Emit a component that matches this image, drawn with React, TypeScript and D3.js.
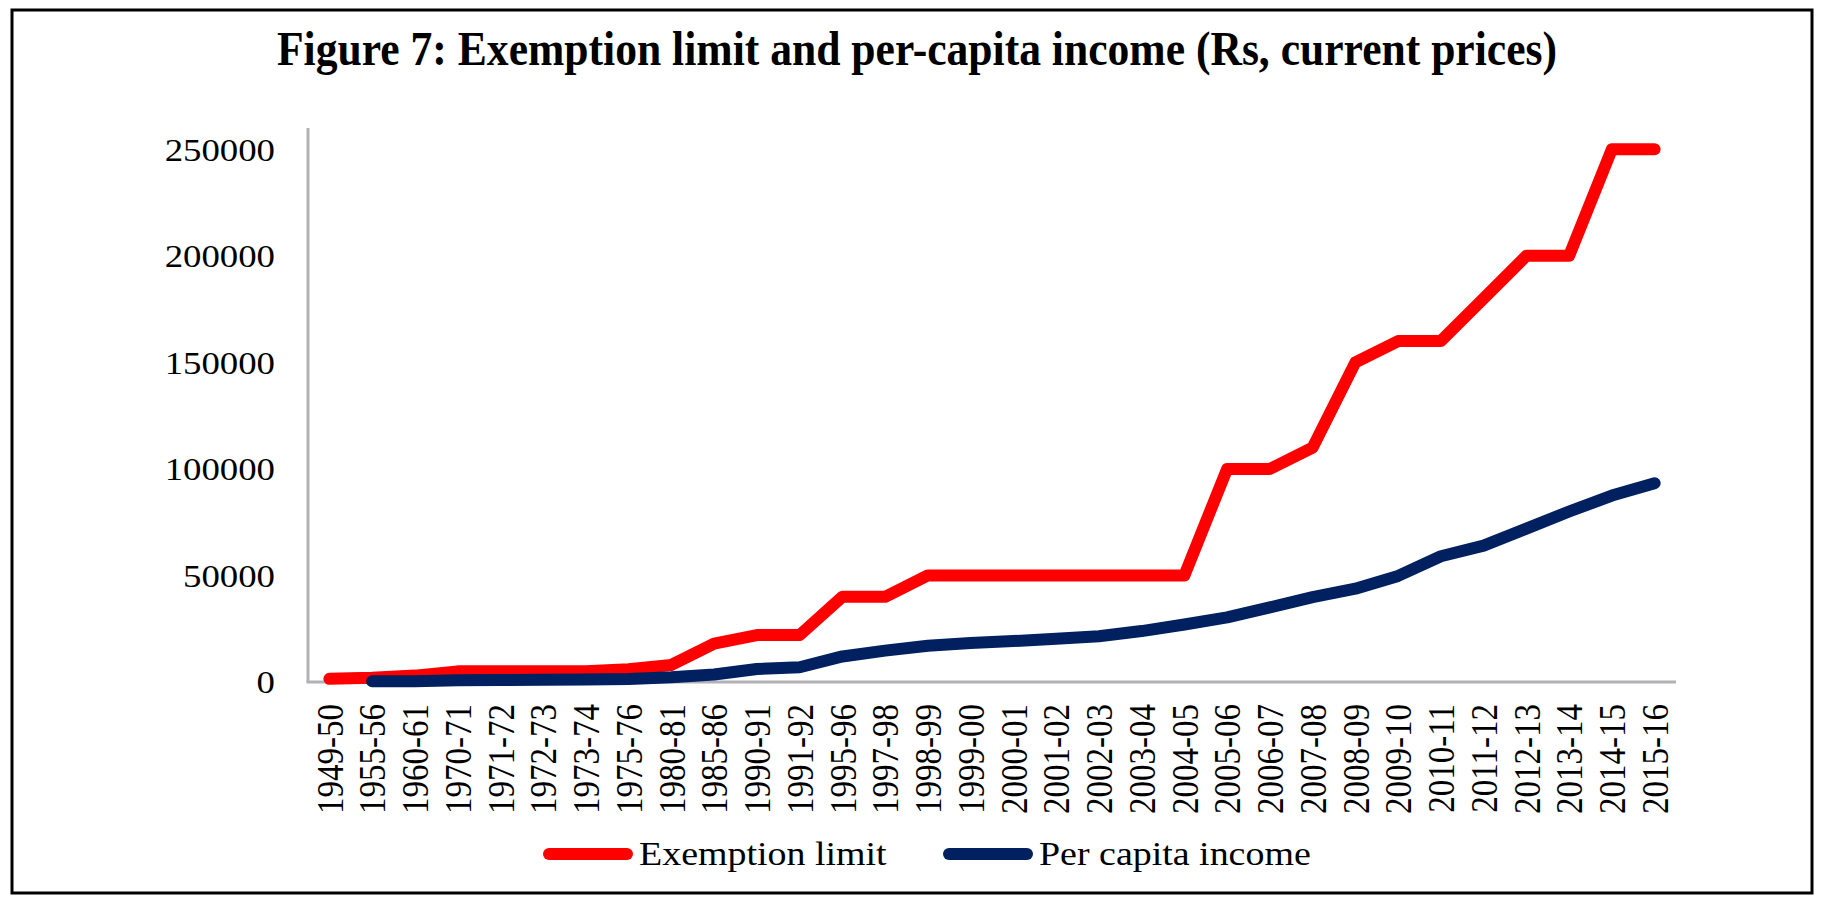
import React from 'react';
import * as d3 from 'd3';

const years = [
  '1949-50', '1955-56', '1960-61', '1970-71', '1971-72', '1972-73', '1973-74', '1975-76',
  '1980-81', '1985-86', '1990-91', '1991-92', '1995-96', '1997-98', '1998-99', '1999-00',
  '2000-01', '2001-02', '2002-03', '2003-04', '2004-05', '2005-06', '2006-07', '2007-08',
  '2008-09', '2009-10', '2010-11', '2011-12', '2012-13', '2013-14', '2014-15', '2015-16',
];

// exemption limit (Rs)
const exemption = [
  1500, 2000, 3000, 5000, 5000, 5000, 5000, 6000,
  8000, 18000, 22000, 22000, 40000, 40000, 50000, 50000,
  50000, 50000, 50000, 50000, 50000, 100000, 100000, 110000,
  150000, 160000, 160000, 180000, 200000, 200000, 250000, 250000,
];

// per capita income (Rs); no value for 1949-50
const perCapita: (number | null)[] = [
  null, 300, 400, 800, 900, 1000, 1200, 1400,
  2200, 3500, 6100, 6900, 12000, 14700, 17000, 18300,
  19200, 20300, 21500, 23900, 27000, 30300, 35000, 39800,
  43800, 49800, 59000, 64000, 72000, 80000, 87500, 93300,
];

const yTicks = [0, 50000, 100000, 150000, 200000, 250000];

const FONT = '"Liberation Serif", "Times New Roman", serif';
const SX = 1.15; // the source picture is stretched sideways

export default function App() {
  const width = 1836;
  const height = 906;
  const plot = { left: 308, right: 1676, top: 128, bottom: 682 };

  const x = d3.scaleBand<string>()
    .domain(years)
    .range([plot.left, plot.right]);

  const y = d3.scaleLinear()
    .domain([0, 260000])
    .range([plot.bottom, plot.top]);

  const cx = (d: string) => (x(d) ?? 0) + x.bandwidth() / 2;

  const redLine = d3.line<number>()
    .x((_, i) => cx(years[i]))
    .y(d => y(d))(exemption) ?? '';

  const blueLine = d3.line<number | null>()
    .defined(d => d != null)
    .x((_, i) => cx(years[i]))
    .y(d => y(d as number))(perCapita) ?? '';

  return (
    <svg width={width} height={height} style={{ position: 'absolute', left: 0, top: 0, background: '#fff' }}>
      <rect x={12} y={10} width={1800} height={883} fill="#fff" stroke="#000" strokeWidth={3} />

      <text
        x={917} y={65} textAnchor="middle" fontFamily={FONT} fontWeight="bold" fontSize={48}
        textLength={1280} lengthAdjust="spacingAndGlyphs"
      >
        Figure 7: Exemption limit and per-capita income (Rs, current prices)
      </text>

      {/* axes */}
      <line x1={plot.left} x2={plot.left} y1={plot.top} y2={plot.bottom} stroke="#b2b2b6" strokeWidth={3} />
      <line x1={plot.left - 1.5} x2={plot.right} y1={plot.bottom} y2={plot.bottom} stroke="#b2b2b6" strokeWidth={3} />

      {yTicks.map(t => (
        <text
          key={t}
          transform={`translate(275,${y(t)}) scale(${SX},1)`}
          dy="0.35em" textAnchor="end" fontFamily={FONT} fontSize={32}
        >
          {t}
        </text>
      ))}

      {years.map(d => (
        <text
          key={d}
          transform={`translate(${cx(d)},704) scale(${SX},1) rotate(-90)`}
          dy="0.35em" textAnchor="end" fontFamily={FONT} fontSize={33}
        >
          {d}
        </text>
      ))}

      <path d={redLine} fill="none" stroke="#ff0000" strokeWidth={12} strokeLinejoin="round" strokeLinecap="round" />
      <path d={blueLine} fill="none" stroke="#002060" strokeWidth={12} strokeLinejoin="round" strokeLinecap="round" />

      {/* legend */}
      <line x1={549} x2={627} y1={854} y2={854} stroke="#ff0000" strokeWidth={12} strokeLinecap="round" />
      <text transform={`translate(639,865) scale(${SX},1)`} fontFamily={FONT} fontSize={33}>Exemption limit</text>
      <line x1={949} x2={1027} y1={854} y2={854} stroke="#002060" strokeWidth={12} strokeLinecap="round" />
      <text transform={`translate(1039,865) scale(${SX},1)`} fontFamily={FONT} fontSize={33}>Per capita income</text>
    </svg>
  );
}
